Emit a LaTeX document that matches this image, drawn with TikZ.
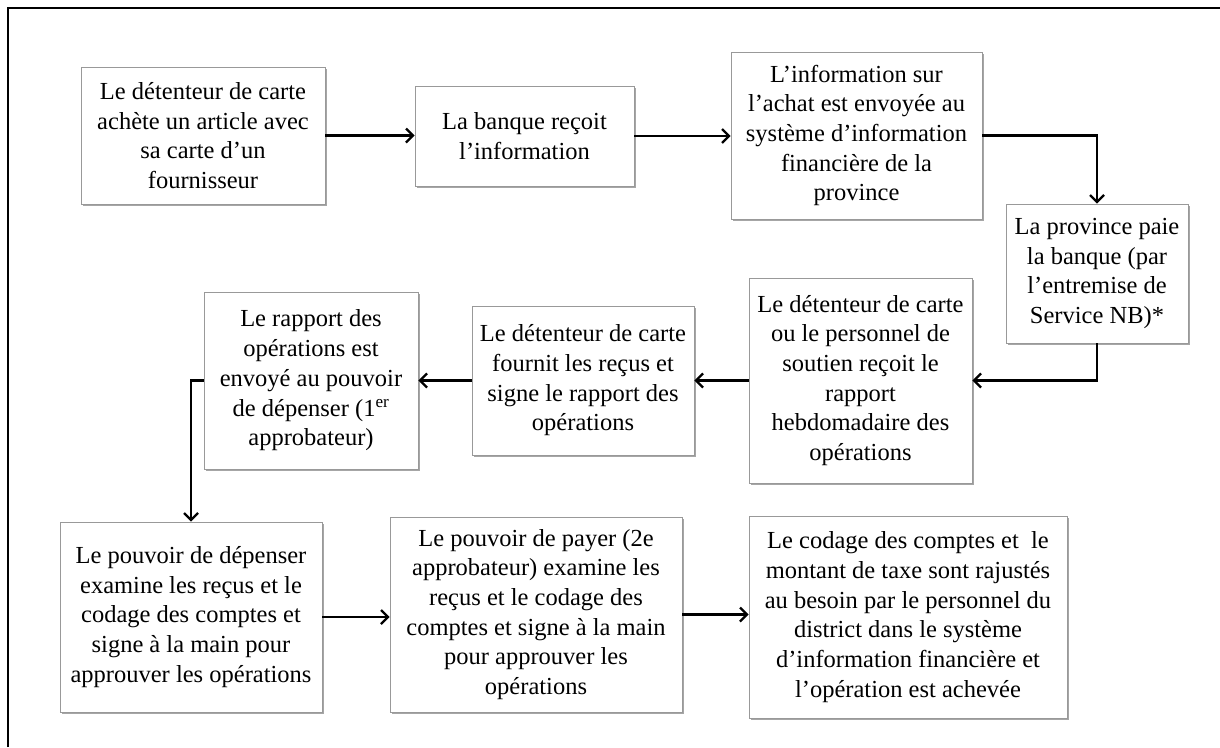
\documentclass[tikz,border=0pt]{standalone}
\usepackage{fontspec}
\setmainfont{Liberation Serif}
\usepackage{tikz}
\usetikzlibrary{arrows.meta,shadows}
\definecolor{boxGray}{rgb}{0.6,0.6,0.6}

\begin{document}
\begin{tikzpicture}[x=1pt, y=-1pt,
	etape/.style={draw=boxGray, line width=0.9pt, fill=white, align=center, inner sep=0pt,
		font=\fontsize{24.5}{29.7}\selectfont,
		drop shadow={shadow xshift=1.5pt, shadow yshift=-2pt, opacity=0.35, fill=black}},
	fleche/.style={line width=2.4pt, -{Straight Barb[length=7pt, width=14pt, line width=2.2pt]}}]
	\useasboundingbox (0,0) rectangle (1220,747);
	\draw[line width=2.4pt] (8,747) -- (8,8) -- (1220,8);
	% premiere rangee
	\node[etape, minimum width=244, minimum height=137] (achat) at (203,135.5) {Le détenteur de carte\\achète un article avec\\sa carte d’un\\fournisseur};
	\node[etape, minimum width=219, minimum height=100] (banque) at (524.5,136) {La banque reçoit\\l’information};
	\node[etape, minimum width=251, minimum height=167] (sysinfo) at (856.5,135.5) {L’information sur\\l’achat est envoyée au\\système d’information\\financière de la\\province};
	\node[etape, minimum width=182, minimum height=139] (paie) at (1097,273.5) {La province paie\\la banque (par\\l’entremise de\\Service NB)*};
	% deuxieme rangee
	\node[etape, minimum width=223, minimum height=205] (hebdo) at (860.5,380.5) {Le détenteur de carte\\ou le personnel de\\soutien reçoit le\\rapport\\hebdomadaire des\\opérations};
	\node[etape, minimum width=222, minimum height=149] (recus) at (583,380.5) {Le détenteur de carte\\fournit les reçus et\\signe le rapport des\\opérations};
	\node[etape, minimum width=214, minimum height=177] (envoi) at (311,380.5) {Le rapport des\\opérations est\\envoyé au pouvoir\\de dépenser (1\textsuperscript{er}\\approbateur)};
	% troisieme rangee
	\node[etape, minimum width=262, minimum height=190] (depenser) at (191,617) {Le pouvoir de dépenser\\examine les reçus et le\\codage des comptes et\\signe à la main pour\\approuver les opérations};
	\node[etape, minimum width=292, minimum height=195] (payer) at (536,614.5) {Le pouvoir de payer (2e\\approbateur) examine les\\reçus et le codage des\\comptes et signe à la main\\pour approuver les\\opérations};
	\node[etape, minimum width=318, minimum height=202] (codage) at (908,617) {Le codage des comptes et~ le\\montant de taxe sont rajustés\\au besoin par le personnel du\\district dans le système\\d’information financière et\\l’opération est achevée};
	% fleches
	\draw[fleche] (achat.east) -- (achat.east -| banque.west);
	\draw[fleche] (banque.east) -- (banque.east -| sysinfo.west);
	\draw[fleche] (sysinfo.east) -| (paie.north);
	\draw[fleche] (paie.south) |- (hebdo.east);
	\draw[fleche] (hebdo.west) -- (recus.east);
	\draw[fleche] (recus.west) -- (envoi.east);
	\draw[fleche] (envoi.west) -| (depenser.north);
	\draw[fleche] (depenser.east) -- (depenser.east -| payer.west);
	\draw[fleche] (payer.east) -- (payer.east -| codage.west);
\end{tikzpicture}
\end{document}
